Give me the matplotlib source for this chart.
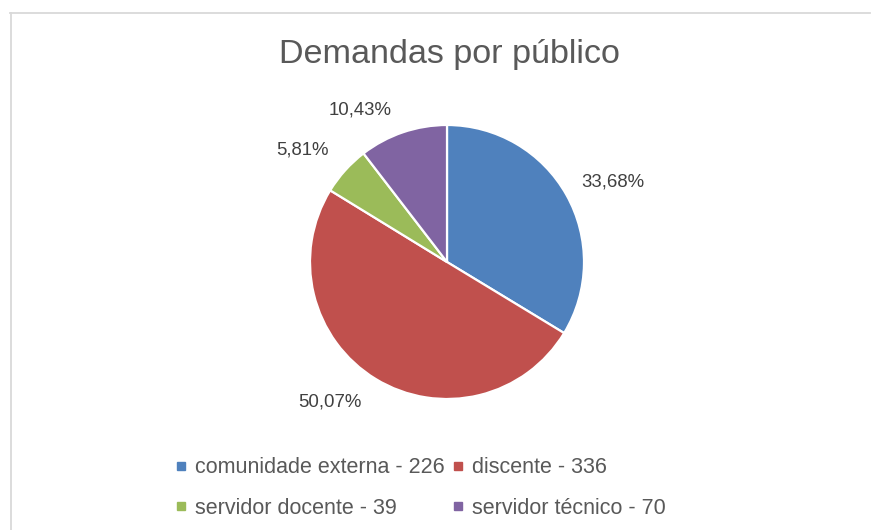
import numpy as np
import matplotlib
matplotlib.use("Agg")
import matplotlib.pyplot as plt
from matplotlib.lines import Line2D

# ---- data ----
title = "Demandas por público"
categories = ["comunidade externa", "discente", "servidor docente", "servidor técnico"]
counts = [226, 336, 39, 70]
pct_labels = ["33,68%", "50,07%", "5,81%", "10,43%"]
colors = ["#4F81BD", "#C0504D", "#9BBB59", "#8064A2"]

# label placement styles (angle tweak in degrees, distance in radii)
label_angle_shift = [-3.7, -8.5, 4.2, 11.1]
label_dist = [1.345, 1.332, 1.334, 1.28]

W, H = 871, 530
fig = plt.figure(figsize=(W / 100, H / 100), dpi=100)
fig.patch.set_facecolor("white")
plt.rcParams["font.family"] = ["Liberation Sans", "DejaVu Sans"]

# chart border (left and top only visible)
gray = "#d9d9d9"
fig.add_artist(Line2D([10.5 / W, 10.5 / W], [0, 1 - 13 / H], color=gray, lw=1.3, transform=fig.transFigure))
fig.add_artist(Line2D([10 / W, 870 / W], [1 - 13 / H, 1 - 13 / H], color=gray, lw=1.3, transform=fig.transFigure))

# pie axes: centre (447, 262), radius 137 px
cx, cy, r = 447, 262, 137
ax = fig.add_axes([(cx - r) / W, 1 - (cy + r) / H, 2 * r / W, 2 * r / H])
wedges, _ = ax.pie(counts, colors=colors, startangle=90, counterclock=False,
                   wedgeprops=dict(edgecolor="white", linewidth=1.6), radius=1.0)
ax.set_xlim(-1, 1)
ax.set_ylim(-1, 1)
ax.set_aspect("equal")
ax.axis("off")

for w, lab, dth, dist in zip(wedges, pct_labels, label_angle_shift, label_dist):
    mid = np.deg2rad((w.theta1 + w.theta2) / 2 + dth)
    ax.text(dist * np.cos(mid), dist * np.sin(mid), lab, ha="center", va="center",
            fontsize=13.4, color="#404040", clip_on=False)

fig.text(449 / W, 1 - 55 / H, title, ha="center", va="center", fontsize=24.6, color="#595959")

handles = [Line2D([], [], marker="s", linestyle="none", markersize=5.3, markerfacecolor=c,
                  markeredgecolor=c) for c in colors]
labels = [f"{c} - {n}" for c, n in zip(categories, counts)]
# legend is filled row by row in the reference; matplotlib fills columns, so reorder
order = [0, 2, 1, 3]
leg = fig.legend([handles[i] for i in order], [labels[i] for i in order], ncol=2, loc="center",
                 bbox_to_anchor=(420 / W, 1 - 488 / H),
                 frameon=False, fontsize=15.5, handlelength=0.6, handletextpad=0.35,
                 columnspacing=0.3, labelspacing=0.9, borderpad=0)
for t in leg.get_texts():
    t.set_color("#595959")

fig.savefig("out.png", dpi=100, facecolor="white")
